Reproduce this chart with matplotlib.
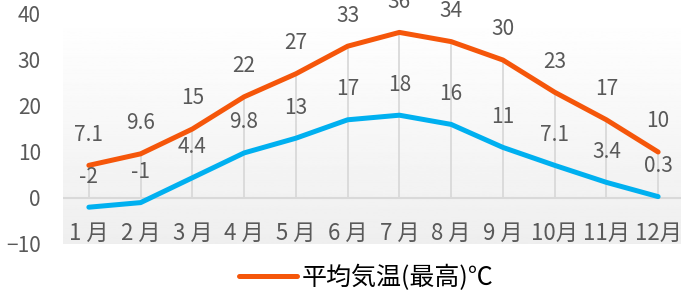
import numpy as np
import matplotlib.pyplot as plt
from matplotlib.lines import Line2D

plt.rcParams['font.family'] = ['Noto Sans CJK JP', 'DejaVu Sans']

months = ['1 月', '2 月', '3 月', '4 月', '5 月', '6 月', '7 月', '8 月', '9 月', '10月', '11月', '12月']
t_max = [7.1, 9.6, 15, 22, 27, 33, 36, 34, 30, 23, 17, 10]
t_min = [-2, -1, 4.4, 9.8, 13, 17, 18, 16, 11, 7.1, 3.4, 0.3]
max_label = '平均気温(最高)℃'

orange = '#F5560A'
blue = '#00B0F0'
gray_txt = '#595959'

fig = plt.figure(figsize=(6.81, 2.92), dpi=100)
ax = fig.add_axes([63 / 681, 1 - 244 / 292, 621 / 681, 230 / 292])
x = np.arange(len(months))

# background gradient white -> light gray
grad = np.linspace(1.0, 0.935, 256).reshape(-1, 1)
ax.imshow(grad, cmap='gray', vmin=0, vmax=1, aspect='auto',
          extent=(-0.5, 11.5, -10, 40), origin='upper', zorder=0)

# drop lines from max series to the axis
ax.vlines(x, 0, t_max, color='#D9D9D9', lw=1.3, zorder=1)
ax.axhline(0, color='#D9D9D9', lw=1.5, zorder=1)

ax.plot(x, t_max, color=orange, lw=3.6, solid_capstyle='round', zorder=3)
ax.plot(x, t_min, color=blue, lw=3.6, solid_capstyle='round', zorder=3)

for xi, v in zip(x, t_max):
    ax.annotate(f'{v:g}', (xi, v), xytext=(0, 22), textcoords='offset points',
                ha='center', va='center', fontsize=15, color=gray_txt, zorder=4)
for xi, v in zip(x, t_min):
    ax.annotate(f'{v:g}', (xi, v), xytext=(0, 22), textcoords='offset points',
                ha='center', va='center', fontsize=15, color=gray_txt, zorder=4)

for xi, m in zip(x, months):
    ax.text(xi, -7.6, m, ha='center', va='center', fontsize=16, color=gray_txt, zorder=4)

ax.set_xlim(-0.5, 11.5)
ax.set_ylim(-10, 40)
ax.set_yticks([-10, 0, 10, 20, 30, 40])
ax.set_xticks([])
ax.tick_params(axis='y', length=0, pad=16, labelsize=15, labelcolor=gray_txt)
for s in ax.spines.values():
    s.set_visible(False)

handle = Line2D([], [], color=orange, lw=3.6, solid_capstyle='round')
fig.legend([handle], [max_label], loc='center', bbox_to_anchor=(0.538, 0.048),
           frameon=False, fontsize=18, handlelength=2.3, handletextpad=0.2,
           borderaxespad=0, borderpad=0)

fig.savefig('out.png', dpi=100)
